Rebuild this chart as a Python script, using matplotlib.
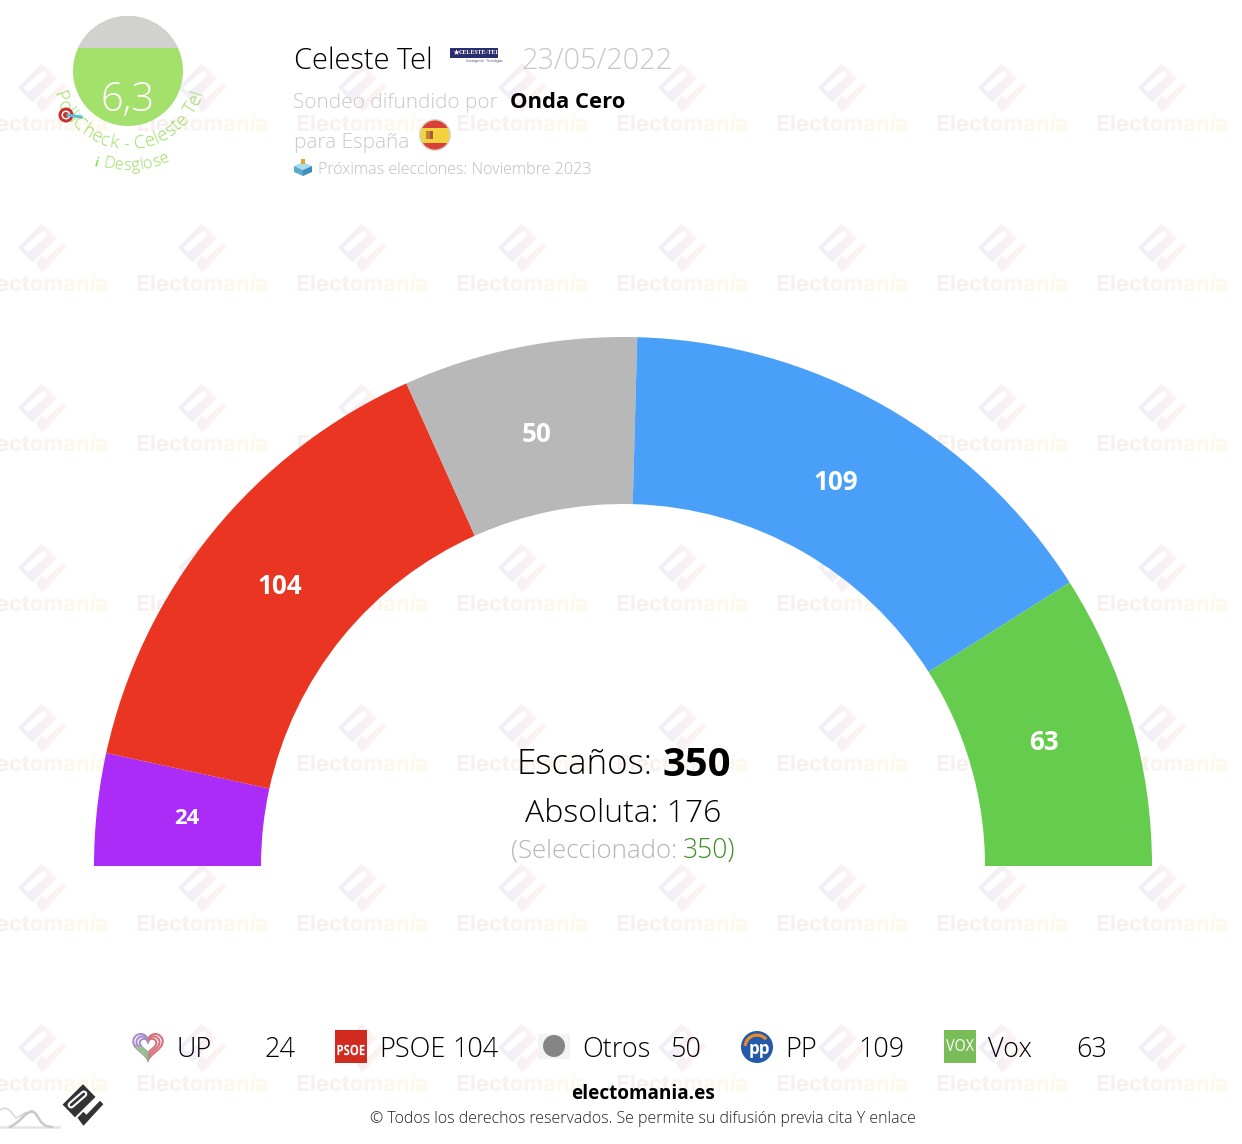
import numpy as np
import matplotlib
matplotlib.use("Agg")
import matplotlib.pyplot as plt
from matplotlib.font_manager import FontProperties
from matplotlib.patches import Circle, Rectangle, Polygon, PathPatch, Wedge
from matplotlib.path import Path
from matplotlib.textpath import TextPath
from matplotlib.transforms import Affine2D

# datos
partidos = ["UP", "PSOE", "Otros", "PP", "Vox"]
escanos = [24, 104, 50, 109, 63]
colores = ["#AA2CF6", "#EA3523", "#B8B8B8", "#4AA0F9", "#66CC4D"]
total = 350
absoluta = 176
seleccionado = 350
nota = "6,3"

# sitios de las etiquetas y de la leyenda
etiquetas_xy = [(187, 818), (280, 587), (537, 434), (836, 482), (1044, 743)]
etiquetas_px = [22, 26, 26, 26, 26]
leyenda_x = [148, 351, 554, 757, 960]

W, H = 1242, 1144
FAM = ["Open Sans", "DejaVu Sans"]
plt.rcParams["font.family"] = FAM


def pt(px):
    return px * 0.72


fig = plt.figure(figsize=(W / 100, H / 100), dpi=100, facecolor="white")
ax = fig.add_axes([0, 0, 1, 1])


def escribe(x, y, s, px, color="black", weight=300, ha="left", z=5):
    return ax.text(x, y, s, fontsize=pt(px), color=color, fontweight=weight,
                   ha=ha, va="center", zorder=z)


def texto_caja(cx, cy, s, ancho, alto, color="white", weight="bold", z=6):
    # texto metido a la fuerza en una caja (logos de partido)
    tp = TextPath((0, 0), s, size=20, prop=FontProperties(family="Open Sans", weight=weight))
    bb = tp.get_extents()
    tr = Affine2D().translate(-bb.x0 - bb.width / 2, -bb.y0 - bb.height / 2)
    tr = tr.scale(ancho / bb.width, -alto / bb.height).translate(cx, cy)
    ax.add_patch(PathPatch(tr.transform_path(tp), facecolor=color, edgecolor="none", zorder=z))


# logo: rombo + check, centrado en cx,cy
DIAMANTE = [(0, -24.5), (14.7, -9.5), (-9.5, 14.5), (-24, -0.5)]
CHECK = [(-6.5, 15), (0.5, 8), (4, 11.5), (20, -5), (24, -1), (0.5, 24.5)]
RANURA = [(-14, 0), (1, -13)]


def logo_paths(cx, cy, k=1.0):
    t = Affine2D().scale(k).translate(cx, cy)
    return [t.transform_path(Path(DIAMANTE + DIAMANTE[:1], closed=True)),
            t.transform_path(Path(CHECK + CHECK[:1], closed=True))]


def ranura(cx, cy, k=1.0):
    (x0, y0), (x1, y1) = RANURA
    ax.plot([cx + k * x0, cx + k * x1], [cy + k * y0, cy + k * y1], color="white",
            lw=5.2 * k, solid_capstyle="round", zorder=1)


# marca de agua
fp_marca = FontProperties(family="Inter", weight="bold")
grad_texto = np.array([[[0.975, 0.94, 0.94], [0.997, 0.97, 0.925]]])
grad_logo = np.array([[[0.95, 0.935, 0.975], [0.99, 0.955, 0.945]]])
for cx in range(42, 1242, 160):
    for cy in range(88, 1100, 160):
        for p in logo_paths(cx, cy):
            im = ax.imshow(grad_logo, extent=(cx - 25, cx + 25, cy + 25, cy - 25), aspect="auto",
                           interpolation="bilinear", zorder=0)
            im.set_clip_path(PathPatch(p, transform=ax.transData))
        ranura(cx, cy)
        tp = TextPath((0, 0), "Electomanía", size=22, prop=fp_marca)
        bb = tp.get_extents()
        k = 129 / bb.width
        tr = Affine2D().translate(-bb.width / 2 - bb.x0, 0).scale(k, -k).translate(cx + 0.5, cy + 43)
        tpath = tr.transform_path(tp)
        im = ax.imshow(grad_texto, extent=(cx - 66, cx + 66, cy + 46, cy + 24), aspect="auto",
                       interpolation="bilinear", zorder=0)
        im.set_clip_path(PathPatch(tpath, transform=ax.transData))

# hemiciclo: el resto del circulo no se dibuja
ax.pie([e / (2 * total) for e in escanos], colors=colores, normalize=False, startangle=180,
       counterclock=True, radius=529, center=(623, 866), frame=True,
       wedgeprops=dict(width=167, linewidth=0, zorder=3))
for (x, y), e, px in zip(etiquetas_xy, escanos, etiquetas_px):
    escribe(x, y, str(e), px, color="white", weight="bold", ha="center")

# centro
escribe(517, 765, "Escaños:", 35)
escribe(662, 766, str(total), 40, weight="bold")
escribe(623, 814, "Absoluta: %d" % absoluta, 32, ha="center")
escribe(511, 851, "(Seleccionado:", 25.9, color="#b5b5b5")
escribe(683, 851, "%d)" % seleccionado, 26.5, color="#3f8f25")

# nota PolliCheck
circ = Circle((128, 71), 55, facecolor="#A3E06C", edgecolor="none", zorder=2)
ax.add_patch(circ)
gris = Rectangle((70, 10), 116, 38, facecolor="#D1D1CF", edgecolor="none", zorder=3)
ax.add_patch(gris)
gris.set_clip_path(circ)
escribe(128, 100, nota, 40, color="white", ha="center")


def en_arco(s, cx, cy, r, px, color, medio=90.0):
    fp = FontProperties(family="Open Sans", weight=300)
    anchos = []
    for c in s:
        if c == " ":
            anchos.append(0.26 * px)
        else:
            a = TextPath((0, 0), "n" + c + "n", size=px, prop=fp).get_extents().width
            b = TextPath((0, 0), "nn", size=px, prop=fp).get_extents().width
            anchos.append(a - b)
    largo = sum(anchos)
    pos = largo / 2  # de izquierda a derecha el angulo baja
    for c, w in zip(s, anchos):
        ang = medio + np.degrees((pos - w / 2) / r)
        x = cx + r * np.cos(np.radians(ang))
        y = cy + r * np.sin(np.radians(ang))
        ax.text(x, y, c, fontsize=pt(px), color=color, fontweight=300, ha="center", va="center",
                rotation=90 - ang, rotation_mode="anchor", zorder=6)
        pos -= w


en_arco("PolliCheck - Celeste Tel", 128, 71, 73, 18.5, "#98DC5C", medio=90)
en_arco("Desglose", 128, 71, 95, 16.5, "#98DC5C", medio=85)
ax.text(96, 163, "i", fontsize=pt(12), color="#98DC5C", fontweight="bold", ha="center", va="center",
        rotation=-15, zorder=6)
# diana
ax.add_patch(Circle((66, 115), 7.5, facecolor="#C9302C", zorder=7))
ax.add_patch(Circle((66, 115), 4.5, facecolor="white", zorder=7))
ax.add_patch(Circle((66, 115), 3, facecolor="#C9302C", zorder=7))
ax.plot([68, 81], [115, 117], color="#58BFD2", lw=2.2, zorder=7)

# cabecera
escribe(294, 61, "Celeste Tel", 29)
escribe(521, 61, "23/05/2022", 28.7, color="#C8C8C8")
escribe(293, 103, "Sondeo difundido por", 20.8, color="#C8C8C8")
escribe(510, 103, "Onda Cero", 22, weight="bold")
escribe(294, 143, "para España", 20.8, color="#C8C8C8")
escribe(318, 170, "Próximas elecciones: Noviembre 2023", 16.1, color="#BDBDBD")

# logo Celeste Tel
ax.add_patch(Rectangle((450, 48), 48, 10, facecolor="#2B2E6E", edgecolor="none", zorder=5))
ax.text(456, 53, "★", fontsize=pt(8), color="white", ha="center", va="center", zorder=6)
ax.text(479, 53, "CELESTE-TEL", fontsize=pt(6), color="white", family="Liberation Serif", fontweight="bold",
        ha="center", va="center", zorder=6)
ax.text(484, 61, "Investigación · Tecnologías", fontsize=pt(3), color="#444466", ha="center", va="center", zorder=6)

# bandera
ax.add_patch(Circle((435, 135), 16, facecolor="#D5D5D5", zorder=4))
band = Circle((435, 135), 14.5, facecolor="#F2D23F", zorder=5)
ax.add_patch(band)
for y0, alto in [(120, 7.5), (142.5, 7.5)]:
    r = Rectangle((419, y0), 32, alto, facecolor="#D8403A", edgecolor="none", zorder=5)
    ax.add_patch(r)
    r.set_clip_path(band)
ax.add_patch(Rectangle((426, 131), 3.5, 8, facecolor="#B8863A", edgecolor="none", zorder=6))
ax.add_patch(Rectangle((429.5, 131), 3.5, 8, facecolor="#C0503A", edgecolor="none", zorder=6))

# urna
ax.add_patch(Polygon([(303, 162), (312, 166), (303, 170), (294, 166)], facecolor="#A9DDEE", zorder=5))
ax.add_patch(Polygon([(294, 166), (303, 170), (303, 176), (294, 172)], facecolor="#5DA8CF", zorder=5))
ax.add_patch(Polygon([(312, 166), (303, 170), (303, 176), (312, 172)], facecolor="#3D8CBB", zorder=5))
ax.add_patch(Rectangle((301, 159), 4, 5, facecolor="#E8A13A", edgecolor="none", zorder=6))

# leyenda
for x, nombre, e in zip(leyenda_x, partidos, escanos):
    escribe(x + 28.5, 1050, nombre, 27)
    escribe(x + 147.5, 1050, str(e), 27, ha="right")

y_ley = 1046
# UP: corazones por tramos de color
tt = np.linspace(0, 2 * np.pi, 120)
hx = 16 * np.sin(tt) ** 3
hy = -(13 * np.cos(tt) - 5 * np.cos(2 * tt) - 2 * np.cos(3 * tt) - np.cos(4 * tt))
for k in [0.92, 0.72, 0.52]:
    ax.plot(leyenda_x[0] + k * hx[:61], y_ley - 1 + k * hy[:61], color="#D8707A", lw=1.5, zorder=6)
    ax.plot(leyenda_x[0] + k * hx[60:85], y_ley - 1 + k * hy[60:85], color="#93B48C", lw=1.5, zorder=6)
    ax.plot(leyenda_x[0] + k * hx[84:], y_ley - 1 + k * hy[84:], color="#A98CC8", lw=1.5, zorder=6)
# PSOE
ax.add_patch(Rectangle((335, 1030), 32, 33, facecolor="#D12B20", edgecolor="none", zorder=5))
texto_caja(351, 1050, "PSOE", 27, 10.5)
# Otros
ax.add_patch(Rectangle((538, 1034), 32, 25, facecolor="#F3F3F3", edgecolor="none", zorder=5))
ax.add_patch(Circle((554, 1046), 11, facecolor="#858585", zorder=6))
# PP
ax.add_patch(Circle((757, 1047), 16, facecolor="#2359A8", zorder=5))
ax.add_patch(Wedge((757, 1047), 13.5, 185, 320, width=3.2, facecolor="#E98A2B", zorder=6))
ax.text(759, 1049, "pp", fontsize=pt(17), color="white", fontweight="bold", ha="center", va="center", zorder=7)
# Vox
ax.add_patch(Rectangle((944, 1030), 32, 33, facecolor="#7ABD58", edgecolor="none", zorder=5))
texto_caja(960, 1045, "VOX", 28, 12, weight=400)

# pie
escribe(643, 1094, "electomania.es", 19, weight="bold", ha="center")
escribe(643, 1119, "© Todos los derechos reservados. Se permite su difusión previa cita Y enlace", 16,
        color="#222222", weight=300, ha="center")
for p in logo_paths(83, 1105, 0.85):
    ax.add_patch(PathPatch(p, facecolor="#333333", edgecolor="none", zorder=8))
(x0, y0), (x1, y1) = RANURA
ax.plot([83 + .85 * x0, 83 + .85 * x1], [1105 + .85 * y0, 1105 + .85 * y1], color="white", lw=5, zorder=8.5,
        solid_capstyle="round")
ax.plot([83 + .85 * x0, 83 + .85 * x1], [1105 + .85 * y0, 1105 + .85 * y1], color="#333333", lw=2, zorder=9,
        solid_capstyle="round")

# montañitas
ax.plot([0, 4, 8, 12, 16, 20, 25, 30], [1110, 1108, 1109, 1113, 1118, 1116, 1113, 1112], color="#DADADA", lw=1.2, zorder=6)
ax.plot([10, 15, 20, 26, 32, 36, 41, 46, 52], [1127, 1124, 1120, 1114, 1111, 1114, 1122, 1126, 1127], color="#C8C8C8", lw=1.8, zorder=6)
ax.plot([0, 59], [1127, 1127], color="#E4E4E4", lw=1.8, zorder=5)

ax.set_xlim(0, W)
ax.set_ylim(H, 0)
ax.set_aspect("auto")
ax.axis("off")
fig.savefig("out.png", dpi=100, facecolor="white")
